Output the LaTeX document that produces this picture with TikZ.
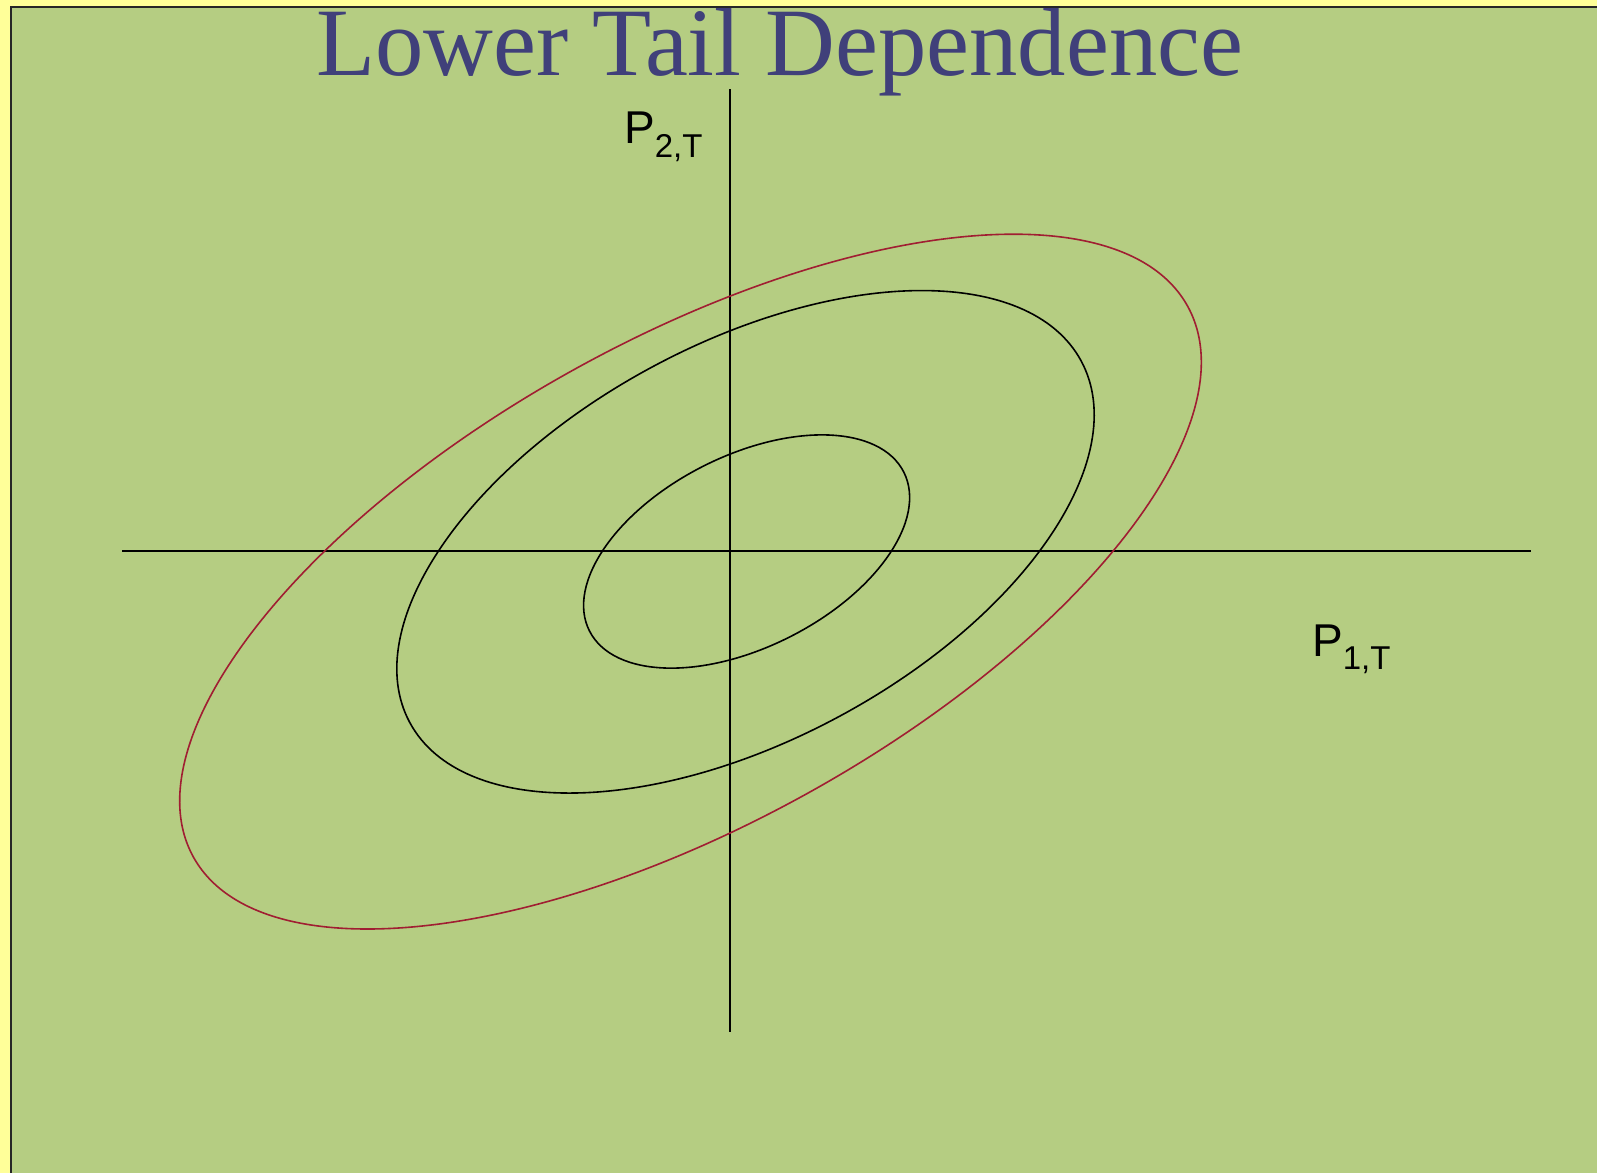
\documentclass[tikz,border=0pt]{standalone}
\usepackage{fontspec}
\setmainfont{Liberation Serif}
\newfontfamily\labfont{Liberation Sans}
\definecolor{slideyellow}{RGB}{255,255,153}
\definecolor{slidegreen}{RGB}{181,205,130}
\definecolor{titleblue}{RGB}{64,64,122}
\definecolor{curvered}{RGB}{160,30,50}
\begin{document}
\begin{tikzpicture}[x=1pt,y=-1pt,
  axis/.style={line width=1.5pt,black},
  contour/.style={line width=1.6pt,black},
  redcontour/.style={line width=1.6pt,curvered},
  lab/.style={inner sep=0pt,anchor=base west}]
\useasboundingbox (0,0) rectangle (1597,1173);
\fill[slideyellow] (0,0) rectangle (1597,1173);
\fill[black!85] (10,6) rectangle (1597,1173);
\fill[slidegreen] (12,8) rectangle (1597,1173);
% title
\node[lab,text=titleblue] (title) at (316,75)
  {\resizebox{927pt}{!}{\fontsize{95}{95}\selectfont Lower Tail Dependence}};
% axes
\coordinate (xl) at (122,551);
\coordinate (xr) at (1531,551);
\coordinate (yt) at (730,89);
\coordinate (yb) at (730,1032);
\draw[axis] (xl) -- (xr);
\draw[axis] (yt) -- (yb);
% contours
\draw[contour] (746.6,551.5) [rotate around={26.8:(746.6,551.5)}] ellipse [x radius=176.1, y radius=95.7];
\draw[contour] (745.5,541.8) [rotate around={28.3:(745.5,541.8)}] ellipse [x radius=381.3, y radius=198.2];
\draw[redcontour] (690.5,581.6) [rotate around={29.0:(690.5,581.6)}] ellipse [x radius=568.3, y radius=241.9];
% labels
\node[lab] (p2) at (624,143) {\labfont\fontsize{46}{46}\selectfont P\raisebox{-14pt}{\fontsize{33}{33}\selectfont 2,T}};
\node[lab] (p1) at (1312,656) {\labfont\fontsize{46}{46}\selectfont P\raisebox{-13pt}{\fontsize{33}{33}\selectfont 1,T}};
\end{tikzpicture}
\end{document}
